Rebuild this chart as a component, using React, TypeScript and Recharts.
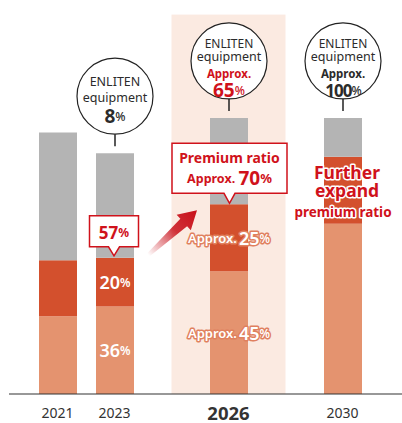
import { BarChart, Bar, XAxis, YAxis, ReferenceArea, LabelList } from "recharts"

// gap slots keep the uneven spacing between the years
const years = ["2021", "2023", "gap-a", "2026", "gap-b", "2030"]
const focusYear = "2026"

// stacked values, index 2023 ~ 100 (gap slots are 0)
const standard = [32, 36, 0, 50.5, 0, 70]
const premium = [23, 20, 0, 27.5, 0, 27.5]
const other = [52.5, 43, 0, 35.5, 0, 16]

// texts on and above the bars
const standardLabel = ["", "36", "", "45", "", ""]
const premiumLabel = ["", "20", "", "25", "", ""]
const approxInBar = [false, false, false, true, false, false]
const premiumRatio = ["", "57", "", "70", "", ""]
const enlitenShare = ["", "8", "", "65", "", "100"]
const enlitenApprox = ["", "", "", "red", "", "dark"]
const furtherText = ["", "", "", "", "", "Further|expand|premium ratio"]

const RED = "#d3502d"
const SALMON = "#e4936f"
const GRAY = "#b4b4b4"
const HILITE = "#fbeae1"
const TEXT_RED = "#d0121b"
const DARK = "#2b2b2b"
const FONT = "'Noto Sans', sans-serif"

const HighlightShape = (p: any) => (
  <rect x={p.x - p.width / 2} y={p.y} width={p.width * 2} height={p.height} fill={HILITE} />
)

const YearTick = (props: any) => {
  const { x, y, payload } = props
  const label = String(payload.value)
  if (label.startsWith("gap")) return null
  const bold = label === focusYear
  return (
    <text
      x={x}
      y={y + 10}
      textAnchor="middle"
      dominantBaseline="central"
      fontFamily={FONT}
      fontSize={bold ? 18.5 : 14}
      fontWeight={bold ? 700 : 400}
      fill="#333"
    >
      {label}
    </text>
  )
}

function BarValue({ cx, cy, value, approx }: { cx: number; cy: number; value: string; approx: boolean }) {
  if (!value) return null
  if (!approx) {
    return (
      <text x={cx} y={cy} textAnchor="middle" dominantBaseline="central" fontFamily={FONT} fill="#fff" fontWeight={600}>
        <tspan fontSize={18}>{value}</tspan>
        <tspan fontSize={12}>%</tspan>
      </text>
    )
  }
  return (
    <text
      x={cx}
      y={cy}
      textAnchor="middle"
      dominantBaseline="central"
      fontFamily={FONT}
      fill="#fff"
      fontWeight={600}
      stroke="#e0805e"
      strokeWidth={3}
      strokeLinejoin="round"
      paintOrder="stroke"
    >
      <tspan fontSize={13}>Approx.</tspan>
      <tspan fontSize={18} dx={2}>{value}</tspan>
      <tspan fontSize={12}>%</tspan>
    </text>
  )
}

function Callout({ cx, bottom, w, h, tip, children }: any) {
  const top = bottom - h
  const l = cx - w / 2
  const r = cx + w / 2
  const d = `M${l},${top} H${r} V${bottom} H${cx + 5.5} L${cx},${tip} L${cx - 5.5},${bottom} H${l} Z`
  return (
    <g>
      <path d={d} fill="#fff" stroke={TEXT_RED} strokeWidth={1.5} />
      {children(top)}
    </g>
  )
}

function Arrow({ tipX, tipY }: { tipX: number; tipY: number }) {
  const angle = (Math.atan2(-44, 48) * 180) / Math.PI
  return (
    <g transform={`translate(${tipX},${tipY}) rotate(${angle})`}>
      <defs>
        <linearGradient id="arrowFade" gradientUnits="userSpaceOnUse" x1={-66} y1={0} x2={0} y2={0}>
          <stop offset="0" stopColor="#c8101a" stopOpacity={0} />
          <stop offset="0.55" stopColor="#c8101a" stopOpacity={0.85} />
          <stop offset="1" stopColor="#c8101a" stopOpacity={1} />
        </linearGradient>
      </defs>
      <polygon
        points="-66,-2 -18,-5 -18,-10.5 0,0 -18,10.5 -18,5 -66,2"
        fill="url(#arrowFade)"
      />
    </g>
  )
}

// LabelList value is the year, so the slot is looked up from it
const renderAnnotations = (props: any) => {
  const index = years.indexOf(String(props.value))
  if (index < 0 || !other[index]) return null
  const x = Number(props.x)
  const y = Number(props.y)
  const width = Number(props.width)
  const height = Number(props.height)
  const unit = height / other[index]
  const cx = x + width / 2
  const premTop = y + height
  const premH = premium[index] * unit
  const stdTop = premTop + premH
  const stdH = standard[index] * unit

  const share = enlitenShare[index]
  const approxColor = enlitenApprox[index]
  const ratio = premiumRatio[index]
  const further = furtherText[index]
  const cy = y - 57
  const r = 38

  return (
    <g>
      {share && (
        <g fontFamily={FONT} textAnchor="middle">
          <circle cx={cx} cy={cy} r={r} fill="#fff" stroke="#222" strokeWidth={1.2} />
          <line x1={cx} y1={cy + r} x2={cx} y2={y - 7} stroke="#222" strokeWidth={1.5} />
          {approxColor ? (
            <>
              <text x={cx} y={cy - 17.5} dominantBaseline="central" fontSize={12} fill={DARK}>ENLITEN</text>
              <text x={cx} y={cy - 4} dominantBaseline="central" fontSize={12.5} fill={DARK}>equipment</text>
              <text
                x={cx}
                y={cy + 12.5}
                dominantBaseline="central"
                fontSize={11.5}
                fontWeight={700}
                fill={approxColor === "red" ? TEXT_RED : DARK}
              >
                Approx.
              </text>
              <text
                x={cx}
                y={cy + 29}
                dominantBaseline="central"
                fontWeight={700}
                fill={approxColor === "red" ? TEXT_RED : DARK}
                letterSpacing={share.length > 2 ? -1 : 0}
              >
                <tspan fontSize={share.length > 2 ? 17 : 19}>{share}</tspan>
                <tspan fontSize={12} fontWeight={500}>%</tspan>
              </text>
            </>
          ) : (
            <>
              <text x={cx} y={cy - 15} dominantBaseline="central" fontSize={12.5} fill={DARK}>ENLITEN</text>
              <text x={cx} y={cy + 1} dominantBaseline="central" fontSize={12.5} fill={DARK}>equipment</text>
              <text x={cx} y={cy + 20} dominantBaseline="central" fontWeight={700} fill={DARK}>
                <tspan fontSize={19}>{share}</tspan>
                <tspan fontSize={12} fontWeight={500}>%</tspan>
              </text>
            </>
          )}
        </g>
      )}

      <BarValue cx={cx} cy={premTop + premH / 2} value={premiumLabel[index]} approx={approxInBar[index]} />
      <BarValue cx={cx} cy={stdTop + stdH / 2} value={standardLabel[index]} approx={approxInBar[index]} />

      {ratio && !approxInBar[index] && (
        <Callout cx={cx - 1} bottom={premTop - 11} w={49} h={31} tip={premTop - 2}>
          {(top: number) => (
            <text x={cx - 1} y={top + 16} textAnchor="middle" dominantBaseline="central" fontFamily={FONT} fontWeight={700} fill={TEXT_RED}>
              <tspan fontSize={17}>{ratio}</tspan>
              <tspan fontSize={12}>%</tspan>
            </text>
          )}
        </Callout>
      )}

      {ratio && approxInBar[index] && (
        <>
          <Arrow tipX={x - 13} tipY={premTop + 6} />
          <Callout cx={cx + 0.5} bottom={premTop - 11} w={115} h={50} tip={premTop - 1}>
            {(top: number) => (
              <g fontFamily={FONT} fontWeight={700} fill={TEXT_RED} textAnchor="middle">
                <text x={cx + 0.5} y={top + 14} dominantBaseline="central" fontSize={14}>Premium ratio</text>
                <text x={cx + 0.5} y={top + 35} dominantBaseline="central">
                  <tspan fontSize={12.5}>Approx. </tspan>
                  <tspan fontSize={19}>{ratio}</tspan>
                  <tspan fontSize={13}>%</tspan>
                </text>
              </g>
            )}
          </Callout>
        </>
      )}

      {further && (
        <g
          fontFamily={FONT}
          fontWeight={700}
          fill={TEXT_RED}
          stroke="#fff"
          strokeWidth={3}
          strokeLinejoin="round"
          paintOrder="stroke"
          textAnchor="middle"
        >
          <text x={cx + 4} y={premTop + premH / 2 - 18} dominantBaseline="central" fontSize={17.5}>
            {further.split("|")[0]}
          </text>
          <text x={cx + 4} y={premTop + premH / 2} dominantBaseline="central" fontSize={17.5}>
            {further.split("|")[1]}
          </text>
          <text x={cx} y={premTop + premH / 2 + 22} dominantBaseline="central" fontSize={13.5}>
            {further.split("|")[2]}
          </text>
        </g>
      )}
    </g>
  )
}

export default function App() {
  const data = years.map((year, i) => ({
    year,
    standard: standard[i],
    premium: premium[i],
    other: other[i],
  }))

  return (
    <div style={{ position: "absolute", left: 0, top: 0, width: 402, height: 423, background: "#fff" }}>
      <BarChart width={402} height={423} data={data} margin={{ top: 0, right: 0, bottom: 0, left: 9 }}>
        <ReferenceArea x1={focusYear} x2={focusYear} y1={0} y2={156} shape={HighlightShape} ifOverflow="visible" />
        <XAxis
          dataKey="year"
          height={29}
          padding={{ left: 20, right: 31 }}
          interval={0}
          tickLine={false}
          axisLine={{ stroke: "#333", strokeWidth: 1.2 }}
          tick={<YearTick />}
        />
        <YAxis hide domain={[0, 162]} />
        <Bar dataKey="standard" stackId="a" fill={SALMON} barSize={38} isAnimationActive={false} />
        <Bar dataKey="premium" stackId="a" fill={RED} barSize={38} isAnimationActive={false} />
        <Bar dataKey="other" stackId="a" fill={GRAY} barSize={38} isAnimationActive={false}>
          <LabelList dataKey="year" content={renderAnnotations} />
        </Bar>
      </BarChart>
    </div>
  )
}
